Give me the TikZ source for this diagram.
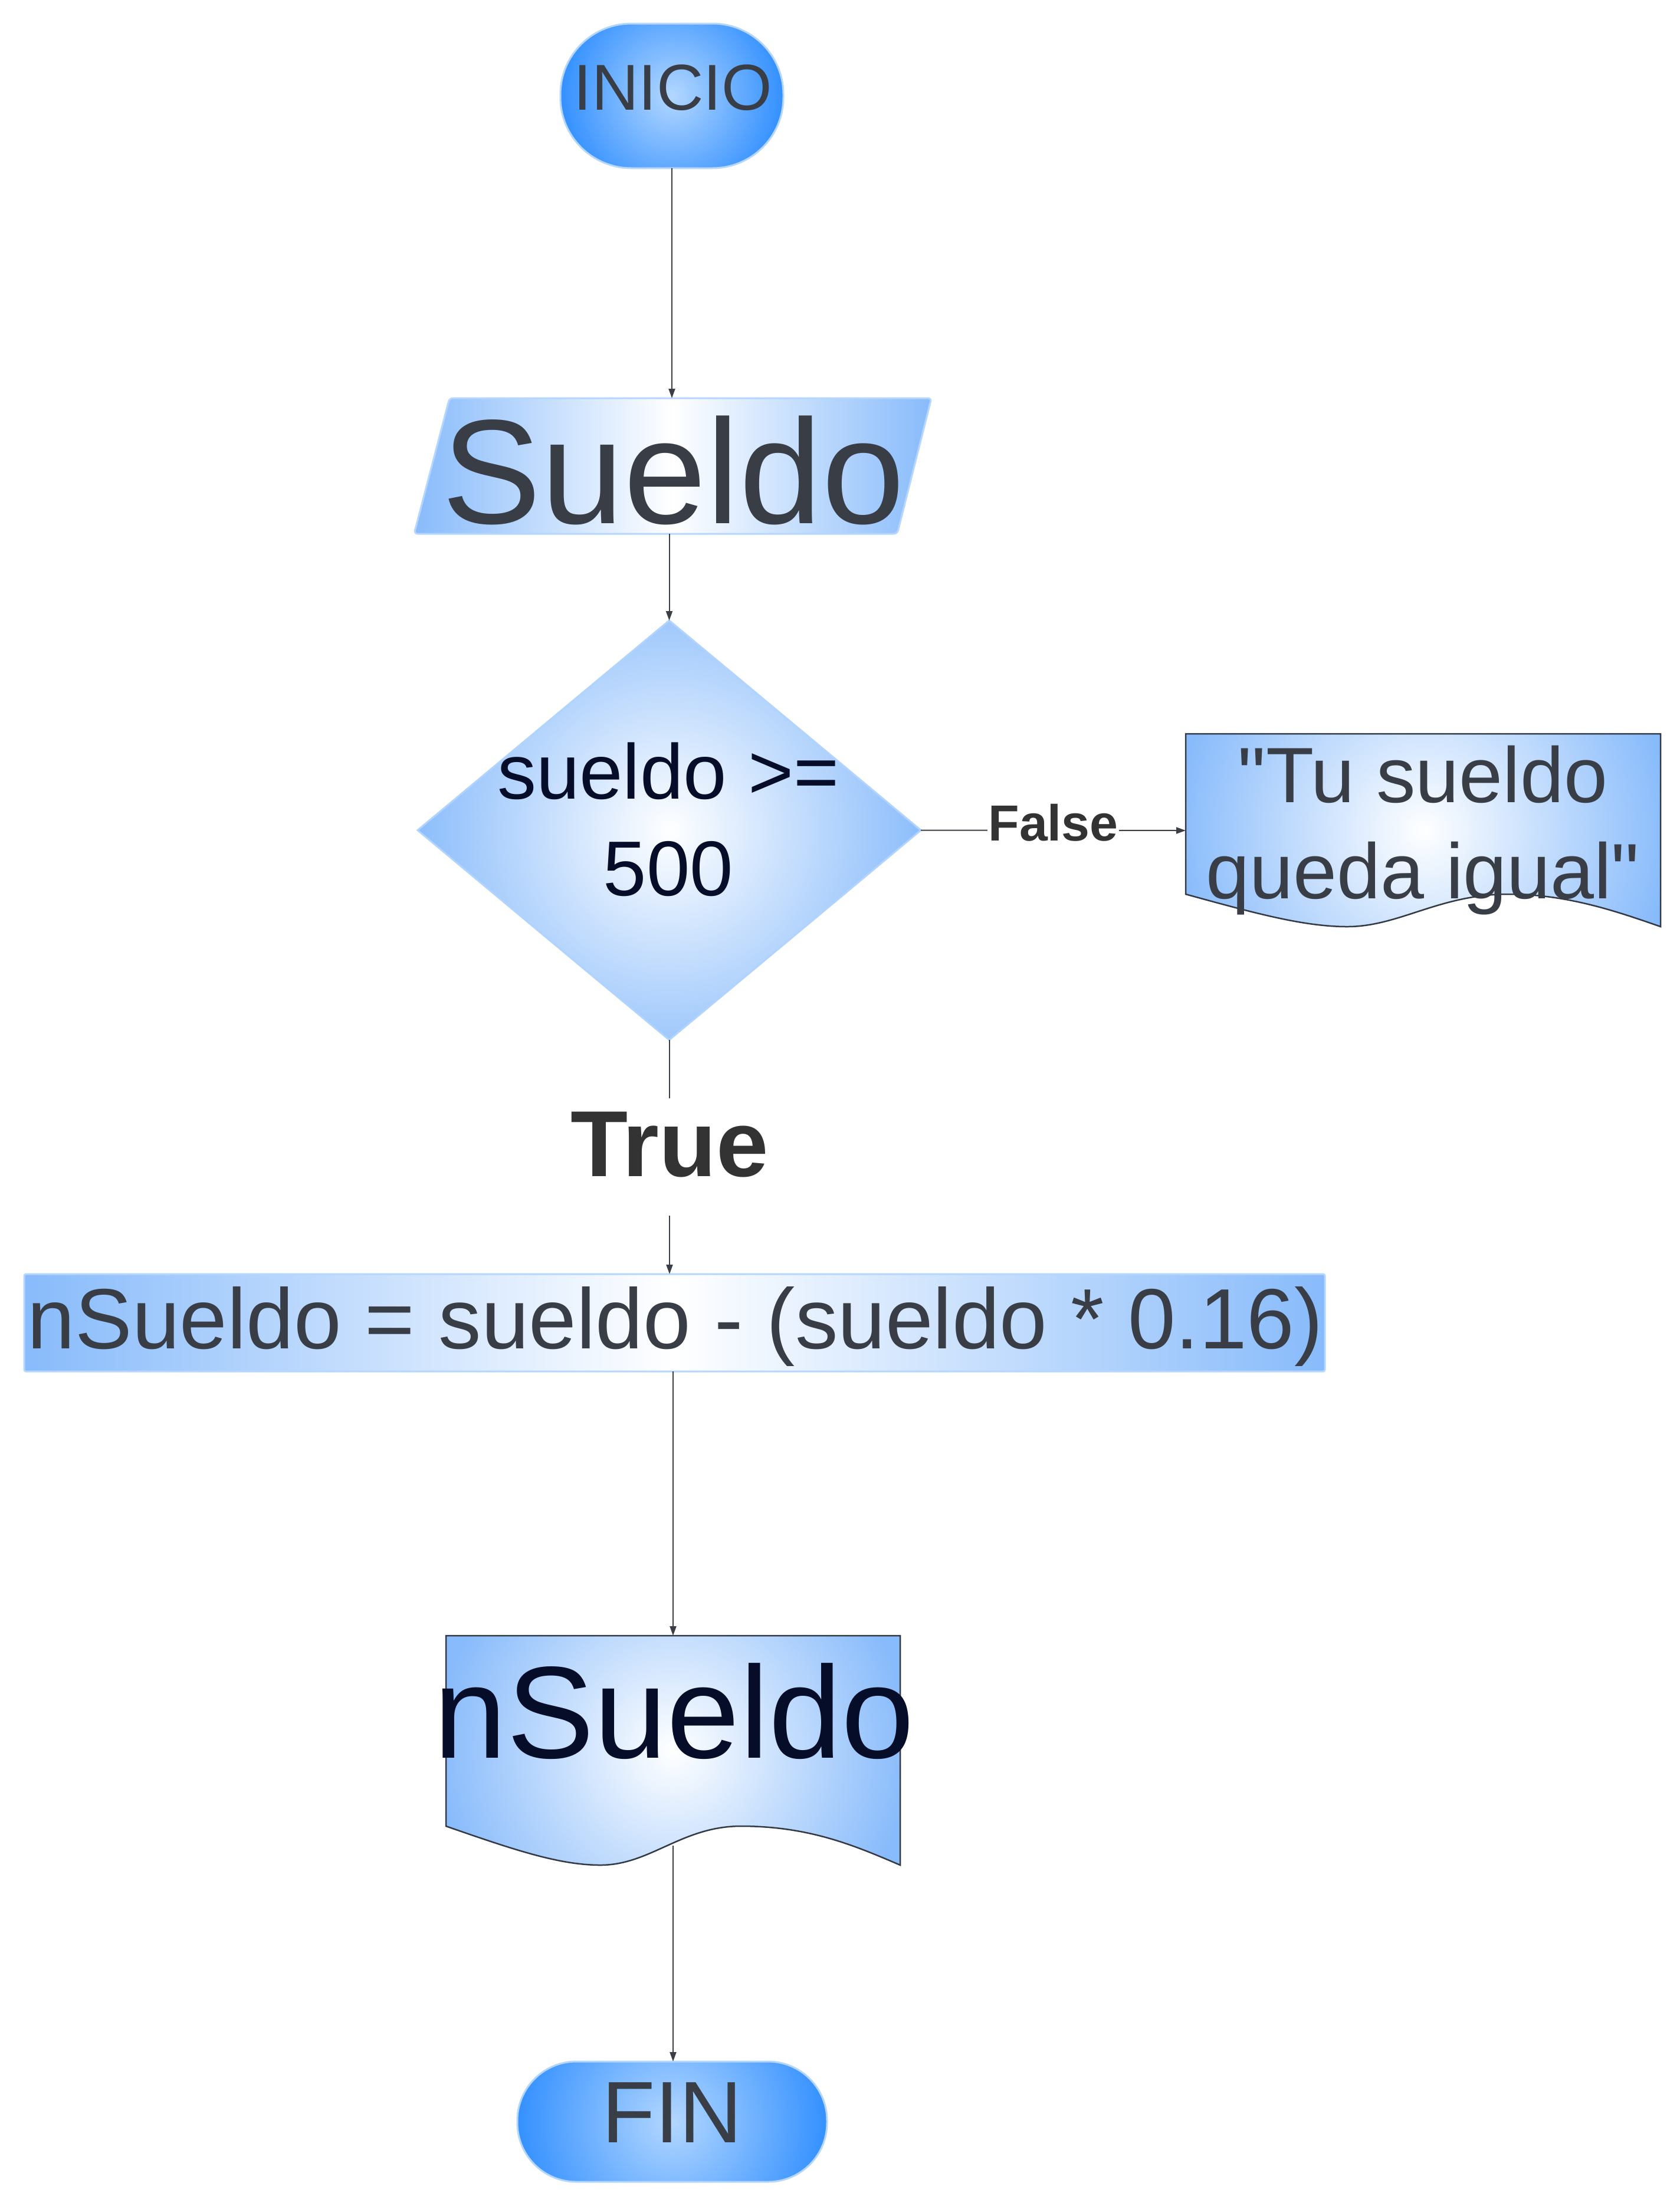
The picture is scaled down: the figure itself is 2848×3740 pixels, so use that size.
\documentclass[tikz,border=0pt]{standalone}
\usepackage{fontspec}
\setmainfont{Liberation Sans}[Ligatures=TeXOff]
\usetikzlibrary{shapes.geometric,arrows.meta,calc}

\definecolor{textgray}{HTML}{393E46}
\definecolor{navy}{HTML}{050D28}
\definecolor{lblgray}{HTML}{333333}
\definecolor{linegray}{HTML}{3A3F47}
\definecolor{edgeblue}{HTML}{88BBFB}
\definecolor{lightborder}{HTML}{B5D6FF}
\definecolor{diaborder}{HTML}{B0D3FF}
\definecolor{docborder}{HTML}{333A44}
\definecolor{terminner}{HTML}{B3D7FF}
\definecolor{termouter}{HTML}{3390FF}

\tikzset{
  line/.style={draw=linegray, line width=2pt},
  arr/.style={line, -{Triangle[length=16pt,width=11pt]}},
  anchorbox/.style={draw=none, inner sep=0pt, outer sep=0pt},
  radfill/.style n args={3}{fill=#2, path picture={\shade[inner color=#1, outer color=#2] (path picture bounding box.center) circle (#3);}},
  txt/.style={inner sep=0pt, outer sep=0pt, anchor=base},
  mtxt/.style={inner sep=0pt, outer sep=0pt, anchor=north, align=center},
}

\begin{document}
\begin{tikzpicture}[x=1pt,y=-1pt]
\path[use as bounding box, fill=white] (0,0) rectangle (2848,3740);

% INICIO
\node[anchorbox, draw=lightborder, line width=3pt, rounded corners=120pt,
      minimum width=378pt, minimum height=245pt,
      radfill={terminner}{termouter}{190pt}] (inicio) at (1139,162.5) {};

% Sueldo (input parallelogram)
\node[anchorbox, minimum width=877pt, minimum height=230pt] (sueldo) at (1140.5,790) {};
\path[draw=lightborder, line width=3pt, rounded corners=6pt,
      left color=edgeblue, right color=edgeblue, middle color=white]
  ($(sueldo.north west)+(60,0)$) -- (sueldo.north east)
  -- ($(sueldo.south east)+(-58,0)$) -- (sueldo.south west) -- cycle;

% decision
\node[anchorbox, shape=diamond, minimum width=853pt, minimum height=711pt,
      draw=diaborder, line width=3pt,
      radfill={white}{edgeblue}{440pt}] (dec) at (1134.5,1407.5) {};

% document: Tu sueldo queda igual
\node[anchorbox, minimum width=805pt, minimum height=328pt] (doc1) at (2412.5,1408) {};
\path[draw=docborder, line width=2.5pt, radfill={white}{edgeblue}{420pt}]
  (2010,1516) .. controls (2130,1549) and (2211,1571) .. (2284,1571)
  .. controls (2372,1571) and (2440,1516) .. (2557,1516)
  .. controls (2654,1516) and (2735,1543) .. (2815,1571)
  -- (2815,1244) -- (2010,1244) -- cycle;

% process
\node[anchorbox, minimum width=2205pt, minimum height=165pt,
      draw=lightborder, line width=3pt, rounded corners=3pt,
      left color=edgeblue, right color=edgeblue, middle color=white] (calc) at (1143.5,2242.5) {};

% document: nSueldo
\node[anchorbox, minimum width=770pt, minimum height=356pt] (doc2) at (1141,2951) {};
\path[draw=docborder, line width=2.5pt, radfill={white}{edgeblue}{400pt}]
  (756,3096) .. controls (871,3136) and (948,3162) .. (1018,3162)
  .. controls (1102,3162) and (1156,3096) .. (1256,3096)
  .. controls (1372,3096) and (1449,3129) .. (1526,3162)
  -- (1526,2773) -- (756,2773) -- cycle;

% FIN
\node[anchorbox, draw=lightborder, line width=3pt, rounded corners=100pt,
      minimum width=525pt, minimum height=204pt,
      radfill={terminner}{termouter}{265pt}] (fin) at (1139.5,3597) {};

% texts
\node[txt, font=\fontsize{110pt}{132pt}\selectfont, text=textgray] (tinicio) at (1141,186) {INICIO};
\node[txt, font=\fontsize{252pt}{300pt}\selectfont, text=textgray] (tsueldo) at (1141.5,887) {Sueldo};
\node[mtxt, font=\fontsize{132pt}{164pt}\selectfont, text=navy] (tdec) at (1133,1258.5) {sueldo >=\\500};
\node[mtxt, font=\fontsize{133pt}{163pt}\selectfont, text=textgray] (tdoc1) at (2412,1263.8) {"Tu sueldo\\queda igual"};
\node[txt, font=\fontsize{145pt}{170pt}\selectfont, text=textgray] (tcalc) at (1145,2286) {nSueldo = sueldo - (sueldo * 0.16)};
\node[txt, font=\fontsize{222pt}{260pt}\selectfont, text=navy] (tdoc2) at (1143,2980) {nSueldo};
\node[txt, font=\fontsize{148pt}{170pt}\selectfont, text=textgray] (tfin) at (1139.5,3632) {FIN};

% True label
\node[font=\bfseries\fontsize{159pt}{190pt}\selectfont, text=lblgray, anchor=base,
      text height=114pt, text depth=49pt, inner xsep=0pt, inner ysep=18pt, outer sep=0pt] (ttrue) at (1135,1994) {True};

% connectors
\draw[arr] (inicio.south) -- (inicio.south |- sueldo.north);
\draw[arr] (sueldo.south -| dec.north) -- (dec.north);
\draw[line] (dec.south) -- (dec.south |- ttrue.north);
\draw[arr] (ttrue.south) -- (ttrue.south |- calc.north);
\draw[arr] (dec.east) -- node[fill=white, inner xsep=2pt, inner ysep=0pt, yshift=13pt,
      font=\bfseries\fontsize{86pt}{100pt}\selectfont, text=lblgray] (tfalse) {False} (doc1.west);
\draw[arr] (calc.south -| doc2.north) -- (doc2.north);
\draw[arr] (doc2.south) -- (doc2.south |- fin.north);
\end{tikzpicture}
\end{document}
